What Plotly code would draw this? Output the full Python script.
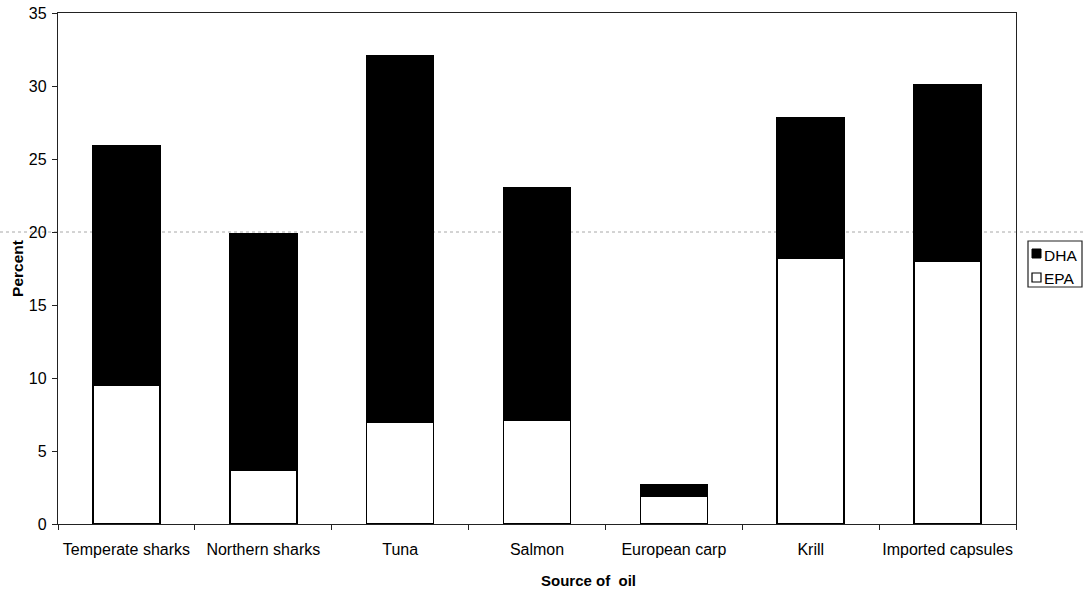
import plotly.graph_objects as go

# Omega-3 fatty acid content by oil source (percent of total fatty acids)
sources = ["Temperate sharks", "Northern sharks", "Tuna", "Salmon",
           "European carp", "Krill", "Imported capsules"]
epa = [9.5, 3.7, 7.0, 7.1, 1.9, 18.2, 18.0]
dha = [16.4, 16.2, 25.1, 15.9, 0.8, 9.6, 12.1]
series_names = ["DHA", "EPA"]
y_ticks = [0, 5, 10, 15, 20, 25, 30, 35]

FONT = "Arial, 'Liberation Sans', sans-serif"

W, H = 1085, 595
ML, MR, MT, MB = 58, 69, 13, 71
PW, PH = W - ML - MR, H - MT - MB


def px_x(px):
    return (px - ML) / PW


def px_y(py):
    return (H - MB - py) / PH


fig = go.Figure()
fig.add_trace(go.Bar(
    x=sources, y=epa, name=series_names[1],
    marker=dict(color="white", line=dict(color="black", width=1.6)),
    width=0.49,
))
fig.add_trace(go.Bar(
    x=sources, y=dha, name=series_names[0],
    marker=dict(color="black", line=dict(color="black", width=1.6)),
    width=0.49,
))

shapes = [
    # dotted reference line at 20 %
    dict(type="line", xref="paper", yref="y", x0=px_x(0), x1=px_x(W),
         y0=20, y1=20, layer="below",
         line=dict(color="#a8a8a8", width=1, dash="dot")),
    # legend frame and swatches
    dict(type="rect", xref="paper", yref="paper",
         x0=px_x(1028), x1=px_x(1082), y0=px_y(287), y1=px_y(241),
         line=dict(color="#222", width=1.2), fillcolor="white"),
    dict(type="rect", xref="paper", yref="paper",
         x0=px_x(1032), x1=px_x(1041), y0=px_y(258), y1=px_y(249),
         line=dict(color="black", width=1), fillcolor="black"),
    dict(type="rect", xref="paper", yref="paper",
         x0=px_x(1032), x1=px_x(1041), y0=px_y(282), y1=px_y(273),
         line=dict(color="black", width=1.2), fillcolor="white"),
]

annotations = [
    dict(text=series_names[0], xref="paper", yref="paper",
         x=px_x(1042), y=px_y(255), xanchor="left", yanchor="middle",
         showarrow=False, font=dict(family=FONT, size=15.5, color="black")),
    dict(text=series_names[1], xref="paper", yref="paper",
         x=px_x(1042), y=px_y(278), xanchor="left", yanchor="middle",
         showarrow=False, font=dict(family=FONT, size=15.5, color="black")),
    dict(text="<b>Source of&nbsp; oil</b>", xref="paper", yref="paper",
         x=px_x(588), y=px_y(580), xanchor="center", yanchor="middle",
         showarrow=False, font=dict(family=FONT, size=15, color="black")),
]

fig.update_layout(
    width=W, height=H,
    margin=dict(l=ML, r=MR, t=MT, b=MB, pad=0),
    barmode="stack",
    plot_bgcolor="white", paper_bgcolor="white",
    showlegend=False,
    shapes=shapes,
    annotations=annotations,
    font=dict(family=FONT, size=16, color="black"),
)

fig.update_xaxes(
    type="category",
    showline=True, linecolor="#222", linewidth=1.3, mirror=True,
    ticks="outside", ticklen=5, tickcolor="#222", tickson="boundaries",
    ticklabelstandoff=11, tickangle=0, automargin=False,
    showgrid=False,
    tickfont=dict(family=FONT, size=16, color="black"),
)
fig.update_yaxes(
    range=[0, 35], tickvals=y_ticks,
    showline=True, linecolor="#222", linewidth=1.3, mirror=True,
    ticks="outside", ticklen=5, tickcolor="#222",
    ticklabelstandoff=2, automargin=False,
    showgrid=False, zeroline=False,
    tickfont=dict(family=FONT, size=16, color="black"),
    title=dict(text="<b>Percent</b>", font=dict(family=FONT, size=15.5, color="black"),
               standoff=1),
)

fig.write_html("out.html")
